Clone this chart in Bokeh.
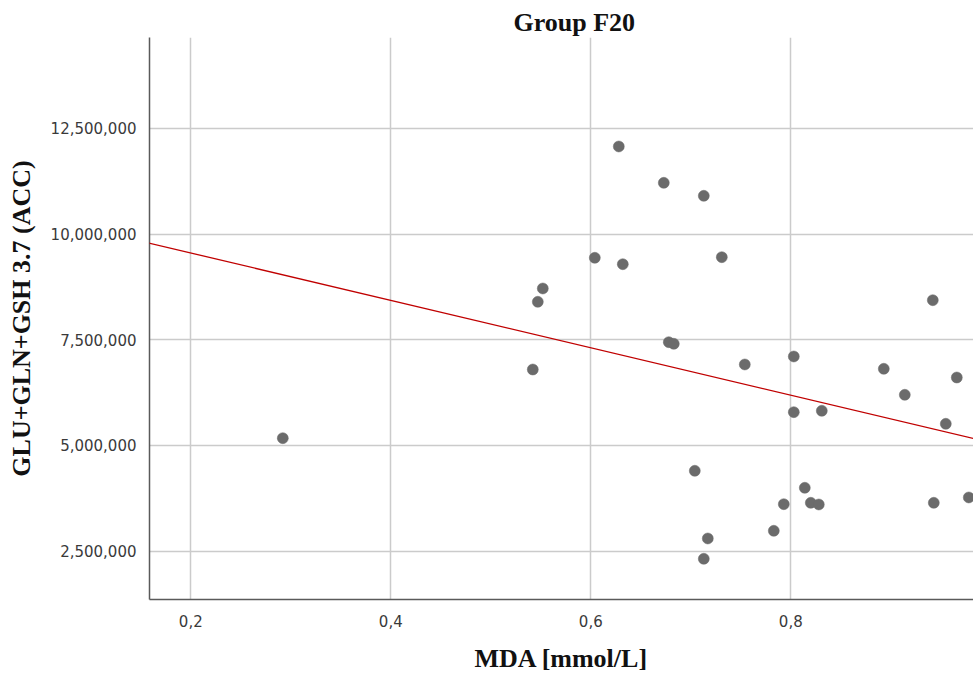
from bokeh.plotting import figure
from bokeh.models import (Range1d, FixedTicker, NumeralTickFormatter,
                          CustomJSTickFormatter, Slope, ColumnDataSource, Title)
from bokeh.embed import file_html
from bokeh.resources import INLINE

# ---- data ----
mda = [0.292, 0.542, 0.547, 0.552, 0.604, 0.628, 0.632, 0.673, 0.678, 0.683,
       0.704, 0.713, 0.713, 0.717, 0.731, 0.754, 0.783, 0.793, 0.803, 0.803,
       0.814, 0.820, 0.828, 0.831, 0.893, 0.914, 0.942, 0.943, 0.955, 0.966,
       0.978]
glu_gln_gsh = [5172000, 6796000, 8397000, 8712000, 9438000, 12070000, 9286000,
               11211000, 7442000, 7404000, 4401000, 10904000, 2320000, 2800000,
               9452000, 6915000, 2982000, 3611000, 7104000, 5787000, 3999000,
               3644000, 3604000, 5820000, 6813000, 6198000, 8435000, 3644000,
               5512000, 6607000, 3770000]

# linear fit line
fit_intercept = 10672000
fit_slope = -5604000

x_ticks = [0.2, 0.4, 0.6, 0.8]
y_ticks = [2500000, 5000000, 7500000, 10000000, 12500000]

title_text = "Group F20"
x_label = "MDA [mmol/L]"
y_label = "GLU+GLN+GSH 3.7 (ACC)"

# ---- figure ----
p = figure(width=973, height=676, output_backend="svg", toolbar_location=None,
           x_range=Range1d(0.1587, 0.9827), y_range=Range1d(1357000, 14647000),
           min_border_left=149, min_border_right=0, min_border_top=37,
           min_border_bottom=77)
p.outline_line_color = None
p.background_fill_color = "white"
p.border_fill_color = "white"

t = Title(text=title_text, align="left", offset=364,
          text_font="Liberation Serif", text_font_size="26px",
          text_font_style="bold", text_color="#111111", standoff=2)
p.add_layout(t, "above")

# axes
for ax in (p.xaxis[0], p.yaxis[0]):
    ax.major_tick_line_color = None
    ax.minor_tick_line_color = None
    ax.axis_line_color = "#5a5a5a"
    ax.axis_line_width = 1.5
    ax.major_label_text_font = "DejaVu Sans"
    ax.major_label_text_font_size = "15px"
    ax.major_label_text_color = "#3a3a3a"
    ax.axis_label_text_font = "Liberation Serif"
    ax.axis_label_text_font_size = "26px"
    ax.axis_label_text_font_style = "bold"
    ax.axis_label_text_color = "#111111"

p.xaxis.ticker = FixedTicker(ticks=x_ticks)
p.yaxis.ticker = FixedTicker(ticks=y_ticks)
p.xaxis.formatter = CustomJSTickFormatter(code="return tick.toFixed(1).replace('.', ',');")
p.yaxis.formatter = NumeralTickFormatter(format="0,0")
p.xaxis.major_label_standoff = 9
p.yaxis.major_label_standoff = 7
p.xaxis.axis_label = x_label
p.yaxis.axis_label = y_label
p.xaxis.axis_label_standoff = 14
p.yaxis.axis_label_standoff = 12

p.grid.grid_line_color = "#cbcbcb"
p.grid.grid_line_width = 1.5
p.xgrid.ticker = FixedTicker(ticks=x_ticks)
p.ygrid.ticker = FixedTicker(ticks=y_ticks)

src = ColumnDataSource(dict(x=mda, y=glu_gln_gsh))
p.scatter("x", "y", source=src, size=11, fill_color="#6b6b6b",
          line_color="#6b6b6b", line_width=0.5)

p.add_layout(Slope(gradient=fit_slope, y_intercept=fit_intercept,
                   line_color="#c00000", line_width=1.3))

open("out.html", "w").write(file_html(p, INLINE))
